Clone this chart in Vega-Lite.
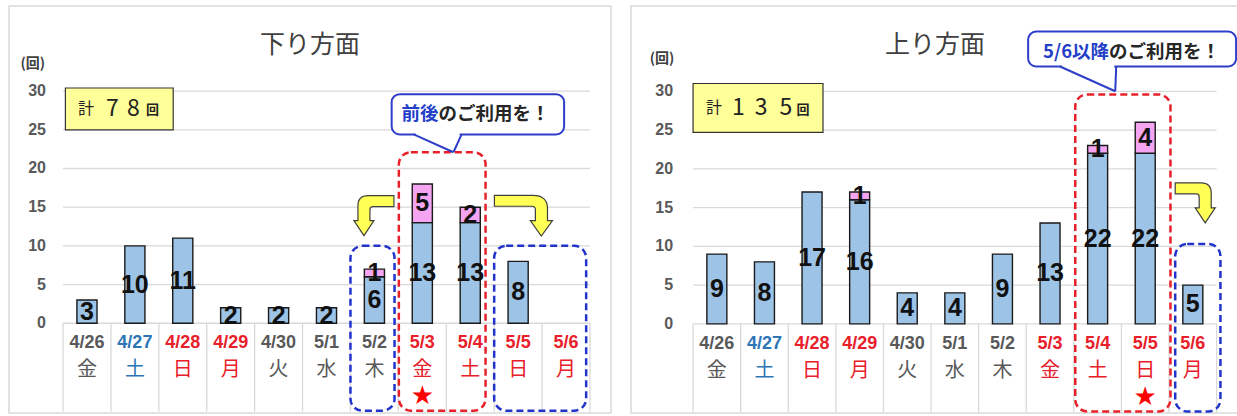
{
  "$schema": "https://vega.github.io/schema/vega-lite/v6.json",
  "background": "white",
  "padding": {"left": 8, "top": 5, "right": 0, "bottom": 0},
  "spacing": 18,
  "config": {"view": {"stroke": "#d9d9d9", "strokeWidth": 1.5}, "font": "Noto Sans CJK JP"},
  "datasets": {
    "cats": [
      {"d": "4/26", "w": "金", "k": "wd"}, {"d": "4/27", "w": "土", "k": "sat"}, {"d": "4/28", "w": "日", "k": "hol"},
      {"d": "4/29", "w": "月", "k": "hol"}, {"d": "4/30", "w": "火", "k": "wd"}, {"d": "5/1", "w": "水", "k": "wd"},
      {"d": "5/2", "w": "木", "k": "wd"}, {"d": "5/3", "w": "金", "k": "hol"}, {"d": "5/4", "w": "土", "k": "hol"},
      {"d": "5/5", "w": "日", "k": "hol"}, {"d": "5/6", "w": "月", "k": "hol"}
    ],
    "ticks": [{"g": 0}, {"g": 5}, {"g": 10}, {"g": 15}, {"g": 20}, {"g": 25}, {"g": 30}],
    "down": [
      {"d": "4/26", "s": "a", "n": 3}, {"d": "4/27", "s": "a", "n": 10}, {"d": "4/28", "s": "a", "n": 11},
      {"d": "4/29", "s": "a", "n": 2}, {"d": "4/30", "s": "a", "n": 2}, {"d": "5/1", "s": "a", "n": 2},
      {"d": "5/2", "s": "a", "n": 6}, {"d": "5/2", "s": "b", "n": 1}, {"d": "5/3", "s": "a", "n": 13},
      {"d": "5/3", "s": "b", "n": 5}, {"d": "5/4", "s": "a", "n": 13}, {"d": "5/4", "s": "b", "n": 2},
      {"d": "5/5", "s": "a", "n": 8}
    ],
    "up": [
      {"d": "4/26", "s": "a", "n": 9}, {"d": "4/27", "s": "a", "n": 8}, {"d": "4/28", "s": "a", "n": 17},
      {"d": "4/29", "s": "a", "n": 16}, {"d": "4/29", "s": "b", "n": 1}, {"d": "4/30", "s": "a", "n": 4},
      {"d": "5/1", "s": "a", "n": 4}, {"d": "5/2", "s": "a", "n": 9}, {"d": "5/3", "s": "a", "n": 13},
      {"d": "5/4", "s": "a", "n": 22}, {"d": "5/4", "s": "b", "n": 1}, {"d": "5/5", "s": "a", "n": 22},
      {"d": "5/5", "s": "b", "n": 4}, {"d": "5/6", "s": "a", "n": 5}
    ]
  },
  "hconcat": [
    {
      "width": 602,
      "height": 407,
      "title": {"text": "下り方面", "anchor": "middle", "frame": "group", "offset": -52, "fontSize": 25, "fontWeight": "normal", "color": "#404040", "font": "Noto Sans CJK JP"},
      "layer": [
        {"data": {"name": "ticks"}, "mark": {"type": "rule", "stroke": "#d9d9d9", "strokeWidth": 1.3},
         "encoding": {"x": {"datum": "4/26", "type": "nominal", "bandPosition": 0, "axis": null}, "x2": {"datum": "5/6", "bandPosition": 1}, "y": {"field": "g", "type": "quantitative", "axis": null}}},
        {"data": {"name": "ticks"}, "mark": {"type": "text", "align": "right", "baseline": "middle", "fontSize": 16, "fontWeight": "bold", "font": "Liberation Sans", "color": "#595959"},
         "encoding": {"x": {"datum": "4/26", "type": "nominal", "bandPosition": -0.355, "axis": null}, "y": {"field": "g", "type": "quantitative", "axis": null}, "text": {"field": "g", "type": "quantitative"}}},
        {"data": {"values": [{}]}, "mark": {"type": "text", "text": "(回)", "fontSize": 14, "fontWeight": "bold", "color": "#404040", "font": "Noto Sans CJK JP"},
         "encoding": {"x": {"datum": "4/26", "type": "nominal", "bandPosition": -0.63, "axis": null}, "y": {"datum": 33.5, "type": "quantitative", "axis": null}}},
        {"data": {"name": "cats"}, "mark": {"type": "rule", "stroke": "#d9d9d9", "strokeWidth": 1.3},
         "encoding": {"x": {"field": "d", "type": "nominal", "bandPosition": 0, "axis": null}, "y": {"datum": 0, "type": "quantitative", "axis": null}, "y2": {"datum": -11.4}}},
        {"data": {"values": [{}]}, "mark": {"type": "rule", "stroke": "#d9d9d9", "strokeWidth": 1.3},
         "encoding": {"x": {"datum": "5/6", "type": "nominal", "bandPosition": 1, "axis": null}, "y": {"datum": 0, "type": "quantitative", "axis": null}, "y2": {"datum": -11.4}}},
        {"data": {"name": "down"}, "mark": {"type": "bar", "width": {"band": 0.42}, "stroke": "#1a1a1a", "strokeWidth": 1.4},
         "encoding": {
           "x": {"field": "d", "type": "nominal", "scale": {"paddingInner": 0, "paddingOuter": 0.783, "align": 0.72}, "axis": null},
           "y": {"field": "n", "type": "quantitative", "stack": "zero", "scale": {"domain": [-11.6, 41], "nice": false, "zero": false}, "axis": null},
           "fill": {"field": "s", "type": "nominal", "scale": {"domain": ["a", "b"], "range": ["#9dc3e6", "#f4a4f0"]}, "legend": null},
           "order": {"field": "s", "type": "nominal"}
         }},
        {"data": {"name": "down"}, "mark": {"type": "text", "fontSize": 25, "fontWeight": "bold", "font": "Liberation Sans", "color": "#111111"},
         "encoding": {"x": {"field": "d", "type": "nominal", "axis": null}, "y": {"field": "n", "type": "quantitative", "stack": "zero", "bandPosition": 0.5, "axis": null},
                      "detail": {"field": "s", "type": "nominal"}, "order": {"field": "s", "type": "nominal"}, "text": {"field": "n", "type": "quantitative"}}},
        {"data": {"name": "cats"}, "mark": {"type": "text", "fontSize": 18, "fontWeight": "bold", "font": "Liberation Sans"},
         "encoding": {"x": {"field": "d", "type": "nominal", "axis": null}, "y": {"datum": -2.6, "type": "quantitative", "axis": null}, "text": {"field": "d", "type": "nominal"},
                      "color": {"field": "k", "type": "nominal", "scale": {"domain": ["wd", "sat", "hol"], "range": ["#595959", "#2e75b6", "#e8202a"]}, "legend": null}}},
        {"data": {"name": "cats"}, "mark": {"type": "text", "fontSize": 20, "font": "Noto Sans CJK JP"},
         "encoding": {"x": {"field": "d", "type": "nominal", "axis": null}, "y": {"datum": -6.1, "type": "quantitative", "axis": null}, "text": {"field": "w", "type": "nominal"},
                      "color": {"field": "k", "type": "nominal", "legend": null}}},
        {"data": {"values": [{}]}, "mark": {"type": "rect", "fill": "white", "fillOpacity": 0, "stroke": "#e8202a", "strokeWidth": 2.5, "strokeDash": [7, 4], "cornerRadius": 12},
         "encoding": {"x": {"datum": "5/3", "type": "nominal", "bandPosition": 0.01, "axis": null}, "x2": {"datum": "5/4", "bandPosition": 0.82}, "y": {"datum": 22.1, "type": "quantitative", "axis": null}, "y2": {"datum": -11.3}}},
        {"data": {"values": [{}]}, "mark": {"type": "rect", "fill": "white", "fillOpacity": 0, "stroke": "#2233cc", "strokeWidth": 2.5, "strokeDash": [7, 4], "cornerRadius": 12},
         "encoding": {"x": {"datum": "5/2", "type": "nominal", "bandPosition": 0, "axis": null}, "x2": {"datum": "5/2", "bandPosition": 0.92}, "y": {"datum": 10, "type": "quantitative", "axis": null}, "y2": {"datum": -11.3}}},
        {"data": {"values": [{}]}, "mark": {"type": "rect", "fill": "white", "fillOpacity": 0, "stroke": "#2233cc", "strokeWidth": 2.5, "strokeDash": [7, 4], "cornerRadius": 12},
         "encoding": {"x": {"datum": "5/5", "type": "nominal", "bandPosition": 0, "axis": null}, "x2": {"datum": "5/6", "bandPosition": 0.92}, "y": {"datum": 10, "type": "quantitative", "axis": null}, "y2": {"datum": -11.3}}},
        {"data": {"values": [{}]}, "mark": {"type": "point", "filled": true, "fill": "#ffff55", "stroke": "#404040", "strokeWidth": 1.2, "opacity": 1, "size": 1600,
                  "shape": "M1,-1 L-0.3,-1 Q-0.8,-1 -0.8,-0.5 L-0.8,0.25 L-1,0.25 L-0.5,1 L0,0.25 L-0.2,0.25 L-0.2,-0.3 Q-0.2,-0.45 -0.05,-0.45 L1,-0.45 Z"},
         "encoding": {"x": {"datum": "5/2", "type": "nominal", "bandPosition": 0.49, "axis": null}, "y": {"datum": 13.9, "type": "quantitative", "axis": null}}},
        {"data": {"values": [{}]}, "mark": {"type": "point", "filled": true, "fill": "#ffff55", "stroke": "#404040", "strokeWidth": 1.2, "opacity": 1, "size": 3481,
                  "shape": "M-1,-0.69 L0.3,-0.69 Q0.8,-0.69 0.8,-0.25 L0.8,0.17 L0.97,0.17 L0.59,0.69 L0.22,0.17 L0.39,0.17 L0.39,-0.2 Q0.39,-0.32 0.27,-0.32 L-1,-0.32 Z"},
         "encoding": {"x": {"datum": "5/5", "type": "nominal", "bandPosition": 0.62, "axis": null}, "y": {"datum": 13.9, "type": "quantitative", "axis": null}}},
        {"data": {"values": [{}]}, "mark": {"type": "rect", "fill": "#ffff99", "stroke": "#333333", "strokeWidth": 1.2},
         "encoding": {"x": {"datum": "4/26", "type": "nominal", "bandPosition": 0.05, "axis": null}, "x2": {"datum": "4/28", "bandPosition": 0.3}, "y": {"datum": 30.4, "type": "quantitative", "axis": null}, "y2": {"datum": 25.0}}},
        {"data": {"values": [{}]}, "mark": {"type": "text", "text": "計", "fontSize": 16, "color": "#222222", "font": "Noto Sans CJK JP"},
         "encoding": {"x": {"datum": "4/26", "type": "nominal", "bandPosition": 0.48, "axis": null}, "y": {"datum": 27.7, "type": "quantitative", "axis": null}}},
        {"data": {"values": [{}]}, "mark": {"type": "text", "text": "7", "fontSize": 23, "color": "#222222", "font": "Noto Sans CJK JP"},
         "encoding": {"x": {"datum": "4/27", "type": "nominal", "bandPosition": 0.03, "axis": null}, "y": {"datum": 27.7, "type": "quantitative", "axis": null}}},
        {"data": {"values": [{}]}, "mark": {"type": "text", "text": "8", "fontSize": 23, "color": "#222222", "font": "Noto Sans CJK JP"},
         "encoding": {"x": {"datum": "4/27", "type": "nominal", "bandPosition": 0.47, "axis": null}, "y": {"datum": 27.7, "type": "quantitative", "axis": null}}},
        {"data": {"values": [{}]}, "mark": {"type": "text", "text": "回", "fontSize": 13, "fontWeight": "bold", "color": "#222222", "font": "Noto Sans CJK JP"},
         "encoding": {"x": {"datum": "4/27", "type": "nominal", "bandPosition": 0.87, "axis": null}, "y": {"datum": 27.5, "type": "quantitative", "axis": null}}},
        {"data": {"values": [{}]}, "mark": {"type": "rect", "fill": "white", "stroke": "#2e3ec8", "strokeWidth": 2, "cornerRadius": 8},
         "encoding": {"x": {"datum": "5/2", "type": "nominal", "bandPosition": 0.86, "axis": null}, "x2": {"datum": "5/6", "bandPosition": 0.46}, "y": {"datum": 29.6, "type": "quantitative", "axis": null}, "y2": {"datum": 24.4}}},
        {"data": {"values": [{}]}, "mark": {"type": "rule", "stroke": "white", "strokeWidth": 3},
         "encoding": {"x": {"datum": "5/3", "type": "nominal", "bandPosition": 0.36, "axis": null}, "x2": {"datum": "5/4", "bandPosition": 0.28}, "y": {"datum": 24.4, "type": "quantitative", "axis": null}}},
        {"data": {"values": [{}]}, "mark": {"type": "rule", "stroke": "#2e3ec8", "strokeWidth": 2},
         "encoding": {"x": {"datum": "5/3", "type": "nominal", "bandPosition": 0.32, "axis": null}, "x2": {"datum": "5/4", "bandPosition": 0.15}, "y": {"datum": 24.4, "type": "quantitative", "axis": null}, "y2": {"datum": 22.1}}},
        {"data": {"values": [{}]}, "mark": {"type": "rule", "stroke": "#2e3ec8", "strokeWidth": 2},
         "encoding": {"x": {"datum": "5/4", "type": "nominal", "bandPosition": 0.32, "axis": null}, "x2": {"datum": "5/4", "bandPosition": 0.15}, "y": {"datum": 24.4, "type": "quantitative", "axis": null}, "y2": {"datum": 22.1}}},
        {"data": {"values": [{}]}, "mark": {"type": "text", "text": "前後", "align": "right", "fontSize": 18.5, "fontWeight": "bold", "color": "#2440c8", "font": "Noto Sans CJK JP"},
         "encoding": {"x": {"datum": "5/3", "type": "nominal", "bandPosition": 0.84, "axis": null}, "y": {"datum": 27.0, "type": "quantitative", "axis": null}}},
        {"data": {"values": [{}]}, "mark": {"type": "text", "text": "のご利用を！", "align": "left", "fontSize": 18.5, "fontWeight": "bold", "color": "#262626", "font": "Noto Sans CJK JP"},
         "encoding": {"x": {"datum": "5/3", "type": "nominal", "bandPosition": 0.84, "axis": null}, "y": {"datum": 27.0, "type": "quantitative", "axis": null}}},
        {"data": {"values": [{}]}, "mark": {"type": "text", "text": "★", "fontSize": 26, "color": "#ff0000", "font": "DejaVu Sans"},
         "encoding": {"x": {"datum": "5/3", "type": "nominal", "bandPosition": 0.5, "axis": null}, "y": {"datum": -9.4, "type": "quantitative", "axis": null}}}
      ]
    },
    {
      "width": 608,
      "height": 407,
      "title": {"text": "上り方面", "anchor": "middle", "frame": "group", "offset": -52, "fontSize": 25, "fontWeight": "normal", "color": "#404040", "font": "Noto Sans CJK JP"},
      "layer": [
        {"data": {"name": "ticks"}, "mark": {"type": "rule", "stroke": "#d9d9d9", "strokeWidth": 1.3},
         "encoding": {"x": {"datum": "4/26", "type": "nominal", "bandPosition": 0, "axis": null}, "x2": {"datum": "5/6", "bandPosition": 1}, "y": {"field": "g", "type": "quantitative", "axis": null}}},
        {"data": {"name": "ticks"}, "mark": {"type": "text", "align": "right", "baseline": "middle", "fontSize": 16, "fontWeight": "bold", "font": "Liberation Sans", "color": "#595959"},
         "encoding": {"x": {"datum": "4/26", "type": "nominal", "bandPosition": -0.42, "axis": null}, "y": {"field": "g", "type": "quantitative", "axis": null}, "text": {"field": "g", "type": "quantitative"}}},
        {"data": {"values": [{}]}, "mark": {"type": "text", "text": "(回)", "fontSize": 14, "fontWeight": "bold", "color": "#404040", "font": "Noto Sans CJK JP"},
         "encoding": {"x": {"datum": "4/26", "type": "nominal", "bandPosition": -0.65, "axis": null}, "y": {"datum": 34.1, "type": "quantitative", "axis": null}}},
        {"data": {"name": "cats"}, "mark": {"type": "rule", "stroke": "#d9d9d9", "strokeWidth": 1.3},
         "encoding": {"x": {"field": "d", "type": "nominal", "bandPosition": 0, "axis": null}, "y": {"datum": 0, "type": "quantitative", "axis": null}, "y2": {"datum": -11.4}}},
        {"data": {"values": [{}]}, "mark": {"type": "rule", "stroke": "#d9d9d9", "strokeWidth": 1.3},
         "encoding": {"x": {"datum": "5/6", "type": "nominal", "bandPosition": 1, "axis": null}, "y": {"datum": 0, "type": "quantitative", "axis": null}, "y2": {"datum": -11.4}}},
        {"data": {"name": "up"}, "mark": {"type": "bar", "width": {"band": 0.42}, "stroke": "#1a1a1a", "strokeWidth": 1.4},
         "encoding": {
           "x": {"field": "d", "type": "nominal", "scale": {"paddingInner": 0, "paddingOuter": 0.887, "align": 0.735}, "axis": null},
           "y": {"field": "n", "type": "quantitative", "stack": "zero", "scale": {"domain": [-11.5, 41], "nice": false, "zero": false}, "axis": null},
           "fill": {"field": "s", "type": "nominal", "scale": {"domain": ["a", "b"], "range": ["#9dc3e6", "#f4a4f0"]}, "legend": null},
           "order": {"field": "s", "type": "nominal"}
         }},
        {"data": {"name": "up"}, "mark": {"type": "text", "fontSize": 25, "fontWeight": "bold", "font": "Liberation Sans", "color": "#111111"},
         "encoding": {"x": {"field": "d", "type": "nominal", "axis": null}, "y": {"field": "n", "type": "quantitative", "stack": "zero", "bandPosition": 0.5, "axis": null},
                      "detail": {"field": "s", "type": "nominal"}, "order": {"field": "s", "type": "nominal"}, "text": {"field": "n", "type": "quantitative"}}},
        {"data": {"name": "cats"}, "mark": {"type": "text", "fontSize": 18, "fontWeight": "bold", "font": "Liberation Sans"},
         "encoding": {"x": {"field": "d", "type": "nominal", "axis": null}, "y": {"datum": -2.6, "type": "quantitative", "axis": null}, "text": {"field": "d", "type": "nominal"},
                      "color": {"field": "k", "type": "nominal", "scale": {"domain": ["wd", "sat", "hol"], "range": ["#595959", "#2e75b6", "#e8202a"]}, "legend": null}}},
        {"data": {"name": "cats"}, "mark": {"type": "text", "fontSize": 20, "font": "Noto Sans CJK JP"},
         "encoding": {"x": {"field": "d", "type": "nominal", "axis": null}, "y": {"datum": -6.1, "type": "quantitative", "axis": null}, "text": {"field": "w", "type": "nominal"},
                      "color": {"field": "k", "type": "nominal", "legend": null}}},
        {"data": {"values": [{}]}, "mark": {"type": "rect", "fill": "white", "fillOpacity": 0, "stroke": "#e8202a", "strokeWidth": 2.5, "strokeDash": [7, 4], "cornerRadius": 12},
         "encoding": {"x": {"datum": "5/4", "type": "nominal", "bandPosition": 0.03, "axis": null}, "x2": {"datum": "5/5", "bandPosition": 1.03}, "y": {"datum": 29.6, "type": "quantitative", "axis": null}, "y2": {"datum": -11.3}}},
        {"data": {"values": [{}]}, "mark": {"type": "rect", "fill": "white", "fillOpacity": 0, "stroke": "#2233cc", "strokeWidth": 2.5, "strokeDash": [7, 4], "cornerRadius": 12},
         "encoding": {"x": {"datum": "5/6", "type": "nominal", "bandPosition": 0.13, "axis": null}, "x2": {"datum": "5/6", "bandPosition": 1.08}, "y": {"datum": 10.3, "type": "quantitative", "axis": null}, "y2": {"datum": -11.3}}},
        {"data": {"values": [{}]}, "mark": {"type": "point", "filled": true, "fill": "#ffff55", "stroke": "#404040", "strokeWidth": 1.2, "opacity": 1, "size": 1600,
                  "shape": "M-1,-1 L0.3,-1 Q0.8,-1 0.8,-0.5 L0.8,0.25 L1,0.25 L0.5,1 L0,0.25 L0.2,0.25 L0.2,-0.3 Q0.2,-0.45 0.05,-0.45 L-1,-0.45 Z"},
         "encoding": {"x": {"datum": "5/6", "type": "nominal", "bandPosition": 0.55, "axis": null}, "y": {"datum": 15.6, "type": "quantitative", "axis": null}}},
        {"data": {"values": [{}]}, "mark": {"type": "rect", "fill": "#ffff99", "stroke": "#333333", "strokeWidth": 1.2},
         "encoding": {"x": {"datum": "4/26", "type": "nominal", "bandPosition": 0, "axis": null}, "x2": {"datum": "4/28", "bandPosition": 0.73}, "y": {"datum": 31.0, "type": "quantitative", "axis": null}, "y2": {"datum": 24.7}}},
        {"data": {"values": [{}]}, "mark": {"type": "text", "text": "計", "fontSize": 16, "color": "#222222", "font": "Noto Sans CJK JP"},
         "encoding": {"x": {"datum": "4/26", "type": "nominal", "bandPosition": 0.44, "axis": null}, "y": {"datum": 27.8, "type": "quantitative", "axis": null}}},
        {"data": {"values": [{}]}, "mark": {"type": "text", "text": "1", "fontSize": 23, "color": "#222222", "font": "Noto Sans CJK JP"},
         "encoding": {"x": {"datum": "4/26", "type": "nominal", "bandPosition": 0.95, "axis": null}, "y": {"datum": 27.8, "type": "quantitative", "axis": null}}},
        {"data": {"values": [{}]}, "mark": {"type": "text", "text": "3", "fontSize": 23, "color": "#222222", "font": "Noto Sans CJK JP"},
         "encoding": {"x": {"datum": "4/27", "type": "nominal", "bandPosition": 0.43, "axis": null}, "y": {"datum": 27.8, "type": "quantitative", "axis": null}}},
        {"data": {"values": [{}]}, "mark": {"type": "text", "text": "5", "fontSize": 23, "color": "#222222", "font": "Noto Sans CJK JP"},
         "encoding": {"x": {"datum": "4/27", "type": "nominal", "bandPosition": 0.95, "axis": null}, "y": {"datum": 27.8, "type": "quantitative", "axis": null}}},
        {"data": {"values": [{}]}, "mark": {"type": "text", "text": "回", "fontSize": 13, "fontWeight": "bold", "color": "#222222", "font": "Noto Sans CJK JP"},
         "encoding": {"x": {"datum": "4/28", "type": "nominal", "bandPosition": 0.31, "axis": null}, "y": {"datum": 27.6, "type": "quantitative", "axis": null}}},
        {"data": {"values": [{}]}, "mark": {"type": "rect", "fill": "white", "stroke": "#2e3ec8", "strokeWidth": 2, "cornerRadius": 8},
         "encoding": {"x": {"datum": "5/3", "type": "nominal", "bandPosition": 0.04, "axis": null}, "x2": {"datum": "5/6", "bandPosition": 1.41}, "y": {"datum": 37.7, "type": "quantitative", "axis": null}, "y2": {"datum": 33.2}}},
        {"data": {"values": [{}]}, "mark": {"type": "rule", "stroke": "white", "strokeWidth": 3},
         "encoding": {"x": {"datum": "5/3", "type": "nominal", "bandPosition": 0.75, "axis": null}, "x2": {"datum": "5/4", "bandPosition": 0.85}, "y": {"datum": 33.2, "type": "quantitative", "axis": null}}},
        {"data": {"values": [{}]}, "mark": {"type": "rule", "stroke": "#2e3ec8", "strokeWidth": 2},
         "encoding": {"x": {"datum": "5/3", "type": "nominal", "bandPosition": 0.71, "axis": null}, "x2": {"datum": "5/4", "bandPosition": 0.87}, "y": {"datum": 33.2, "type": "quantitative", "axis": null}, "y2": {"datum": 30.0}}},
        {"data": {"values": [{}]}, "mark": {"type": "rule", "stroke": "#2e3ec8", "strokeWidth": 2},
         "encoding": {"x": {"datum": "5/4", "type": "nominal", "bandPosition": 0.89, "axis": null}, "x2": {"datum": "5/4", "bandPosition": 0.87}, "y": {"datum": 33.2, "type": "quantitative", "axis": null}, "y2": {"datum": 30.0}}},
        {"data": {"values": [{}]}, "mark": {"type": "text", "text": "5/6以降", "align": "right", "fontSize": 18.5, "fontWeight": "bold", "color": "#2440c8", "font": "Noto Sans CJK JP"},
         "encoding": {"x": {"datum": "5/4", "type": "nominal", "bandPosition": 0.74, "axis": null}, "y": {"datum": 35.1, "type": "quantitative", "axis": null}}},
        {"data": {"values": [{}]}, "mark": {"type": "text", "text": "のご利用を！", "align": "left", "fontSize": 18.5, "fontWeight": "bold", "color": "#262626", "font": "Noto Sans CJK JP"},
         "encoding": {"x": {"datum": "5/4", "type": "nominal", "bandPosition": 0.74, "axis": null}, "y": {"datum": 35.1, "type": "quantitative", "axis": null}}},
        {"data": {"values": [{}]}, "mark": {"type": "text", "text": "★", "fontSize": 26, "color": "#ff0000", "font": "DejaVu Sans"},
         "encoding": {"x": {"datum": "5/5", "type": "nominal", "bandPosition": 0.5, "axis": null}, "y": {"datum": -9.4, "type": "quantitative", "axis": null}}}
      ]
    }
  ]
}
